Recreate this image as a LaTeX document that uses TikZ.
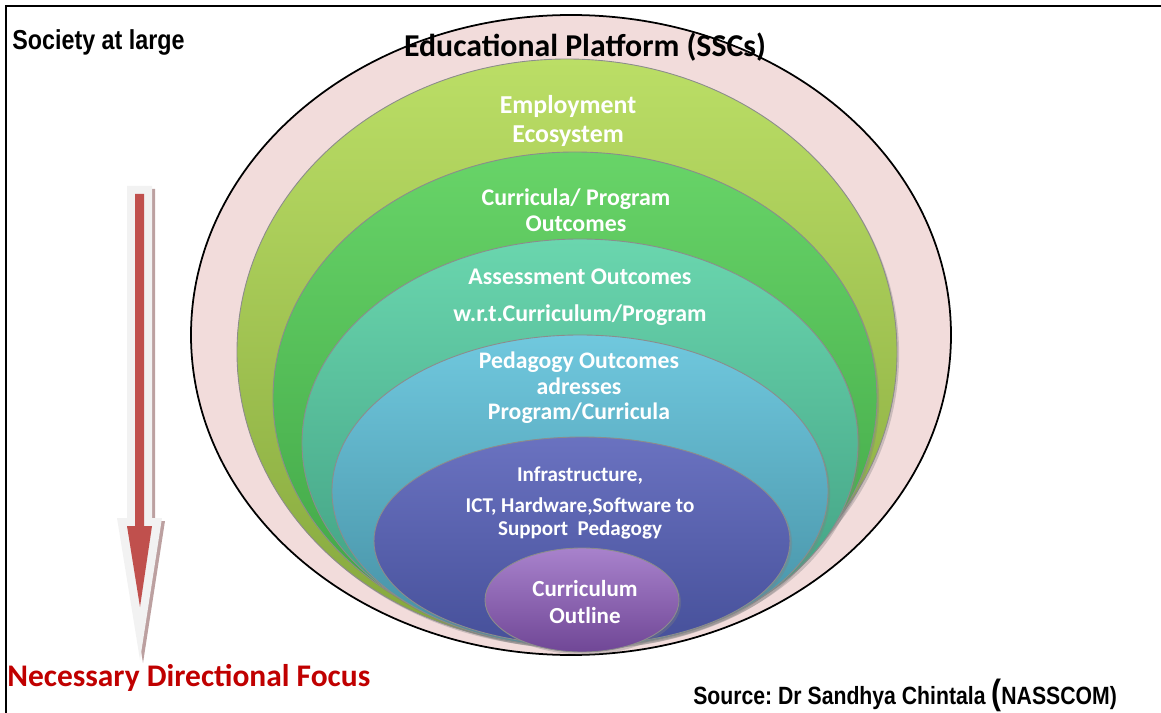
\documentclass[tikz,border=0pt]{standalone}
\usepackage{fontspec}
\setmainfont{Carlito}
\newfontfamily\narrowsans[FakeStretch=0.85]{Liberation Sans}
\usetikzlibrary{shadows}
\frenchspacing

\definecolor{platformpink}{HTML}{F2DCDB}
\definecolor{focusred}{HTML}{C00000}
\definecolor{arrowred}{HTML}{C0504D}
\definecolor{arrowgray}{HTML}{F2F2F2}
\definecolor{arrowshade}{HTML}{BCA0A0}
% ring colours: top / middle / bottom
\definecolor{limetop}{HTML}{BBDE66}
\definecolor{limemid}{HTML}{A6CC50}
\definecolor{limebot}{HTML}{84A63C}
\definecolor{greentop}{HTML}{68D468}
\definecolor{greenmid}{HTML}{54C454}
\definecolor{greenbot}{HTML}{3DA244}
\definecolor{tealtop}{HTML}{6AD6AE}
\definecolor{tealmid}{HTML}{52BF94}
\definecolor{tealbot}{HTML}{3D9A7E}
\definecolor{cyantop}{HTML}{70C8DE}
\definecolor{cyanmid}{HTML}{56A8BE}
\definecolor{cyanbot}{HTML}{448EA2}
\definecolor{indigotop}{HTML}{6A72C0}
\definecolor{indigomid}{HTML}{5761AD}
\definecolor{indigobot}{HTML}{46509A}
\definecolor{purpletop}{HTML}{A882CC}
\definecolor{purplemid}{HTML}{8759AA}
\definecolor{purplebot}{HTML}{704796}

\tikzset{
  ring/.style={draw=black!45, line width=0.5pt,
    top color=#1top, middle color=#1mid, bottom color=#1bot,
    drop shadow={opacity=0.35, shadow xshift=1.2pt, shadow yshift=-1.4pt}},
  ringtext/.style={text=white, font=\bfseries, align=center, inner sep=0pt},
}

\begin{document}
\begin{tikzpicture}[x=0.02cm, y=-0.02cm]
  \useasboundingbox (0,0) rectangle (1161,713);

  % Frame
  \draw[line width=1.3pt] (6,713) -- (6,6) -- (1161,6);

  % Platform and nested rings
  \filldraw[fill=platformpink, draw=black, line width=1pt] (571,335) ellipse [x radius=380, y radius=320];
  \path[ring=lime] (567,352) ellipse [x radius=330, y radius=293];
  \path[ring=green] (575,398) ellipse [x radius=302, y radius=246];
  \path[ring=teal] (580,443) ellipse [x radius=278, y radius=204];
  \path[ring=cyan] (580,491) ellipse [x radius=248, y radius=156];
  \path[ring=indigo] (582,541) ellipse [x radius=208, y radius=104];
  \path[ring=purple] (582,600) ellipse [x radius=97, y radius=52];

  % Direction arrow
  \fill[arrowshade] (130,189) -- (155,189) -- (155,521) -- (165,521) -- (143,663)
    -- (120,521) -- (130,521) -- cycle;
  \fill[arrowgray] (127,186) -- (152,186) -- (152,518) -- (162,518) -- (140,660)
    -- (117,518) -- (127,518) -- cycle;
  \fill[arrowred] (135,194) -- (144,194) -- (144,526) -- (152,526) -- (140,607)
    -- (127,526) -- (135,526) -- cycle;

  % Define nodes
  \node[anchor=west, inner sep=0pt, font=\narrowsans\bfseries\fontsize{15.6}{18}\selectfont]
    (society) at (12,42) {Society at large};
  \node[inner sep=0pt, font=\bfseries\fontsize{18.1}{22}\selectfont]
    (platform) at (585,47) {Educational Platform (SSCs)};
  \node[ringtext, font=\bfseries\fontsize{14.7}{17}\selectfont]
    (employ) at (568,121) {Employment\\Ecosystem};
  \node[ringtext, font=\bfseries\fontsize{13.6}{14.7}\selectfont]
    (curricula) at (576,210) {Curricula/ Program\\Outcomes};
  \node[ringtext, font=\bfseries\fontsize{13.6}{21}\selectfont]
    (assess) at (580,297) {Assessment Outcomes\\w.r.t.Curriculum/Program};
  \node[ringtext, font=\bfseries\fontsize{13.5}{14.5}\selectfont]
    (pedagogy) at (579,388) {Pedagogy Outcomes\\adresses\\Program/Curricula};
  \node[ringtext, font=\bfseries\fontsize{12}{13}\selectfont]
    (infra) at (580,503) {Infrastructure,\\[5pt]ICT, Hardware,Software to\\Support\ \ Pedagogy};
  \node[ringtext, font=\bfseries\fontsize{13.1}{15.3}\selectfont]
    (outline) at (585,602) {Curriculum\\Outline};
  \node[anchor=west, inner sep=0pt, text=focusred, font=\bfseries\fontsize{17.9}{21}\selectfont]
    (focus) at (7,678) {Necessary Directional Focus};
  \node[anchor=west, inner sep=0pt, font=\narrowsans\bfseries\fontsize{14.2}{17}\selectfont]
    (source) at (693,695) {Source: Dr Sandhya Chintala {\fontsize{20}{20}\selectfont(}NASSCOM)};
\end{tikzpicture}
\end{document}
